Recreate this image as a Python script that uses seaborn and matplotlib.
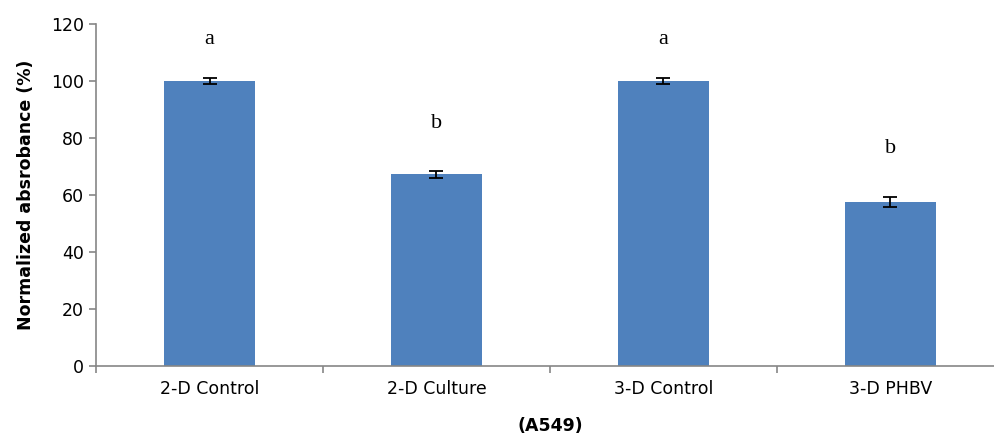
import matplotlib
matplotlib.use("Agg")
import matplotlib.pyplot as plt
import seaborn as sns
import pandas as pd
import numpy as np

# datos
grupos = ["2-D Control", "2-D Culture", "3-D Control", "3-D PHBV"]
absorbancia = [100.0, 67.3, 100.0, 57.6]
error = [1.2, 1.2, 1.2, 1.8]
letras = ["a", "b", "a", "b"]
pos_letras = [114.5, 85.0, 114.5, 76.2]

df = pd.DataFrame({"grupo": grupos, "valor": absorbancia})

sns.set_style("white")
plt.rcParams["font.family"] = ["DejaVu Sans"]
plt.rcParams["text.color"] = "black"
plt.rcParams["axes.labelcolor"] = "black"
plt.rcParams["xtick.labelcolor"] = "black"
plt.rcParams["ytick.labelcolor"] = "black"

gris = "#868686"
fig = plt.figure(figsize=(9.95, 4.38), dpi=100)
ax = fig.add_axes([0.0965, 0.1644, 0.9125, 0.781])

sns.barplot(data=df, x="grupo", y="valor", color="#4F81BD", width=0.4,
            saturation=1, linewidth=0, ax=ax)
ax.errorbar(np.arange(len(grupos)), absorbancia, yerr=error, fmt="none",
            ecolor="black", elinewidth=1.3, capsize=5, capthick=1.3)

for i, (l, y) in enumerate(zip(letras, pos_letras)):
    ax.text(i, y, l, ha="center", va="center", fontsize=16,
            family="Liberation Serif", color="black")

ax.set_xlim(-0.5, 3.5)
ax.set_ylim(0, 120)
ax.set_yticks(range(0, 121, 20))
ax.set_xticks([-0.5, 0.5, 1.5, 2.5, 3.5], minor=True)
ax.tick_params(axis="x", which="major", length=0, labelsize=12.5, pad=10)
ax.tick_params(axis="x", which="minor", length=5, color=gris, width=1.2, direction="out")
ax.tick_params(axis="y", length=5, color=gris, width=1.2, labelsize=12.5, direction="out")
ax.tick_params(axis="y", left=True)
ax.tick_params(axis="x", bottom=True, which="minor")

for s in ["top", "right"]:
    ax.spines[s].set_visible(False)
for s in ["left", "bottom"]:
    ax.spines[s].set_color(gris)
    ax.spines[s].set_linewidth(1.2)

ax.set_ylabel("Normalized absrobance (%)", fontsize=12.5, fontweight="bold", labelpad=12)
ax.set_xlabel("(A549)", fontsize=12.5, fontweight="bold", labelpad=14)

fig.savefig("out.png", dpi=100)
